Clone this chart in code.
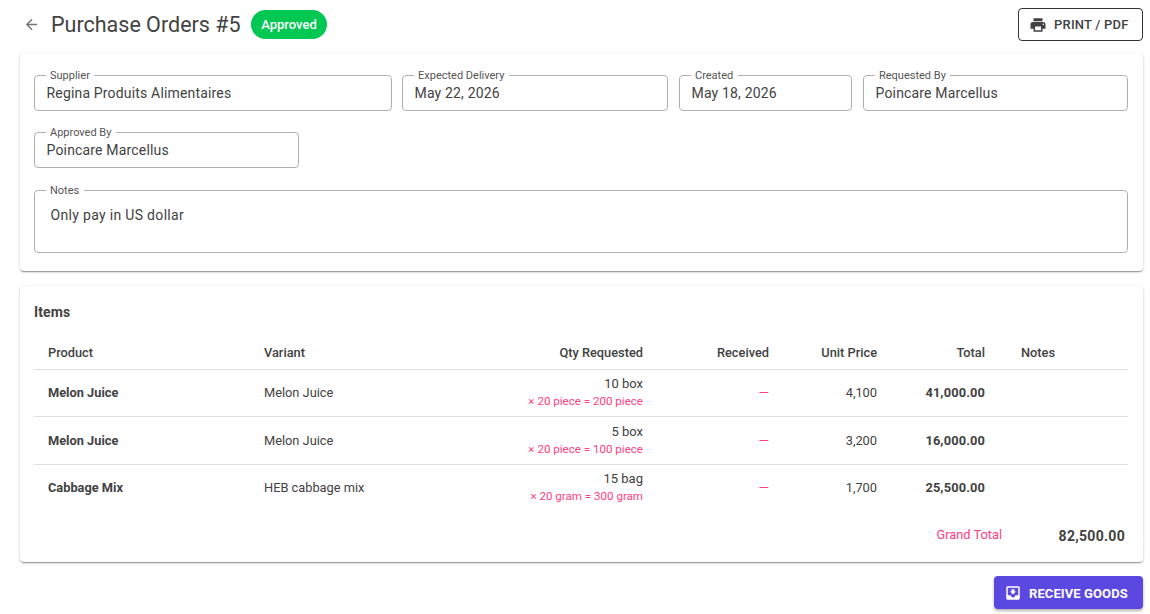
<!DOCTYPE html>
<html><head><meta charset="utf-8">
<script src="https://cdn.jsdelivr.net/npm/chart.js@4"></script>
<style>
html,body{margin:0;padding:0;background:#fff;width:1150px;height:614px;overflow:hidden;font-family:Roboto,sans-serif;color:#424242}
.a{position:absolute;white-space:nowrap;line-height:1}
.card{position:absolute;left:20px;width:1123px;background:#fff;border-radius:4px;box-shadow:0 2px 1px -1px rgba(0,0,0,.2),0 1px 3px 0 rgba(0,0,0,.2),0 1px 1px 0 rgba(0,0,0,.14)}
.field{position:absolute;border:1px solid #b0b0b0;border-radius:4px;box-sizing:border-box}
.lab{position:absolute;top:-6px;left:10.5px;background:#fff;padding:0 4.5px;font-size:11px;line-height:11px;color:#555;white-space:nowrap}
.rule{position:absolute;left:34px;width:1094px;height:1px;background:#e0e0e0}
</style></head><body>
<div id="root"></div>
<script>
const title = "Purchase Orders #5";
const status = "Approved";
const fields = [["Supplier","Regina Produits Alimentaires"],["Expected Delivery","May 22, 2026"],["Created","May 18, 2026"],["Requested By","Poincare Marcellus"],["Approved By","Poincare Marcellus"],["Notes","Only pay in US dollar"]];
const headers = ["Product","Variant","Qty Requested","Received","Unit Price","Total","Notes"];
const products = ["Melon Juice","Melon Juice","Cabbage Mix"];
const variants = ["Melon Juice","Melon Juice","HEB cabbage mix"];
const qty = ["10 box","5 box","15 bag"];
const qtyDetail = ["× 20 piece = 200 piece","× 20 piece = 100 piece","× 20 gram = 300 gram"];
const received = ["—","—","—"];
const unitPrice = ["4,100","3,200","1,700"];
const totals = ["41,000.00","16,000.00","25,500.00"];
const grandTotal = "82,500.00";

const root = document.getElementById('root');
function el(html){root.insertAdjacentHTML('beforeend',html);}
function txt(s,x,cy,size,o={}){
  const pos = o.r!==undefined ? `right:${1150-o.r}px` : `left:${x}px`;
  el(`<div class="a" style="${pos};top:${cy-size/2}px;font-size:${size}px;font-weight:${o.w||400};color:${o.c||'#424242'};letter-spacing:${o.ls||0}px">${s}</div>`);
}
const icon=(d,x,y,s,c)=>el(`<svg style="position:absolute;left:${x}px;top:${y}px" width="${s}" height="${s}" viewBox="0 0 24 24"><path fill="${c}" d="${d}"/></svg>`);

icon("M20 11H7.83l5.59-5.59L12 4l-8 8 8 8 1.41-1.41L7.83 13H20v-2z",22.5,16,17,"#757575");
txt(title,51,24.5,21.5,{c:'#424242'});
el(`<div class="a" style="left:251px;top:10px;width:76px;height:29px;border-radius:15px;background:#00c853;color:#fff;font-size:13px;font-weight:500;line-height:29px;text-align:center">${status}</div>`);
el(`<div style="position:absolute;left:1018px;top:8px;width:125px;height:33px;box-sizing:border-box;border:1px solid #333;border-radius:4px"></div>`);
icon("M19 8H5c-1.66 0-3 1.34-3 3v6h4v4h12v-4h4v-6c0-1.66-1.34-3-3-3zm-3 11H8v-5h8v5zm3-7c-.55 0-1-.45-1-1s.45-1 1-1 1 .45 1 1-.45 1-1 1zm-1-9H6v4h12V3z",1029,16,18,"#424242");
txt("PRINT / PDF",1054,24.5,13,{w:500,ls:.2});

el(`<div class="card" style="top:53px;height:218px"></div><div class="card" style="top:286px;height:276px"></div>`);
const boxes=[[34,75,358,36],[402,75,266,36],[679,75,173,36],[863,75,265,36],[34,132,265,36],[34,190,1094,63]];
fields.forEach((f,i)=>{const b=boxes[i];
  el(`<div class="field" style="left:${b[0]}px;top:${b[1]}px;width:${b[2]}px;height:${b[3]}px"><div class="lab">${f[0]}</div></div>`);
  const cy = i==5 ? 215 : b[1]+18;
  txt(f[1], b[0]+(i==5?16.5:12.5), cy, 14, {ls:i==5?.32:.17});
});

txt("Items",34,312,14,{w:700,ls:.1});
const hx=[48,264,643,769,877,985,1021], right=[0,0,1,1,1,1,0];
headers.forEach((h,i)=>txt(h,hx[i],353,12.8,{w:500,r:right[i]?hx[i]:undefined}));
[369,416,464].forEach(y=>el(`<div class="rule" style="top:${y}px"></div>`));
const rowY=[393,441,488];
products.forEach((p,i)=>{const y=rowY[i];
  txt(p,48,y,12.8,{w:700});
  txt(variants[i],264,y,12.8);
  txt(qty[i],0,y-10,13,{r:643});
  txt(qtyDetail[i],0,y+8.5,11.5,{r:643,c:'#ff4081',ls:.03});
  txt(received[i],0,y,13.5,{r:769,c:'#ff4081'});
  txt(unitPrice[i],0,y,12.8,{r:877});
  txt(totals[i],0,y,12.8,{r:985,w:700,ls:.15});
});
txt("Grand Total",0,535,12.8,{r:1002,c:'#ff4081'});
txt(grandTotal,0,535.5,14,{r:1125,w:700,ls:.3});

el(`<div style="position:absolute;left:994px;top:576px;width:149px;height:33px;border-radius:4px;background:#5b48e0;box-shadow:0 2px 3px rgba(0,0,0,.3)"></div>`);
icon("M19 3H4.99c-1.11 0-1.98.9-1.98 2L3 19c0 1.1.88 2 1.99 2H19c1.1 0 2-.9 2-2V5c0-1.1-.9-2-2-2zm0 12h-4c0 1.66-1.35 3-3 3s-3-1.34-3-3H4.99V5H19v10zm-3-5h-2V7h-4v3H8l4 4 4-4z",1004,584,18,"#fff");
txt("RECEIVE GOODS",1029,593,13,{w:700,c:'#fff',ls:.1});
</script>
</body></html>
